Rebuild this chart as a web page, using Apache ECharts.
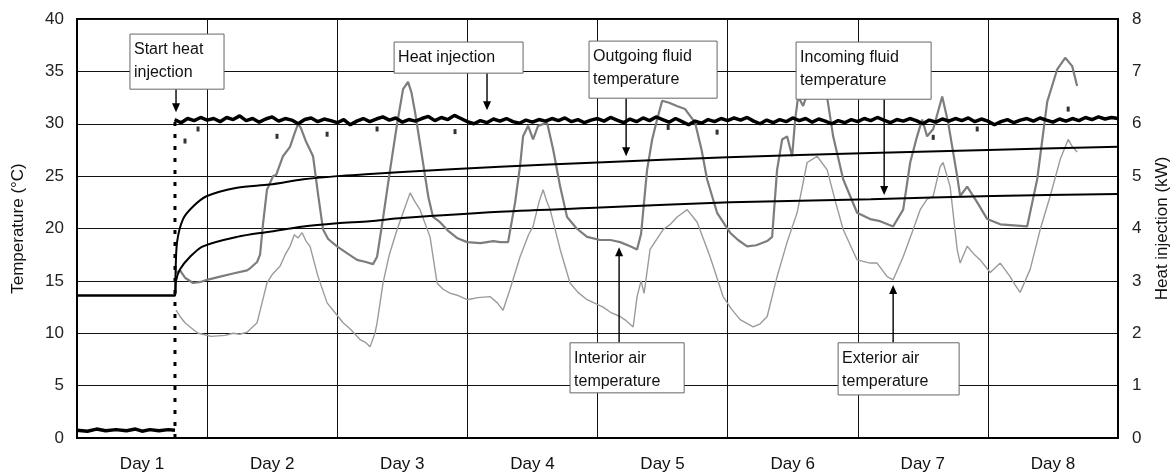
<!DOCTYPE html>
<html lang="en">
<head>
    <meta charset="UTF-8">
    <title>Heat injection test</title>
    <script src="https://cdn.jsdelivr.net/npm/echarts@6/dist/echarts.min.js"></script>
    <style>
        html, body { margin: 0; padding: 0; background: #fff; }
        #charts { width: 1173px; height: 475px; }
    </style>
</head>
<body>
    <div id="charts"></div>
    <script type="text/javascript">
        // x values are in days from the start of the record
        var dayLabels = ['Day 1', 'Day 2', 'Day 3', 'Day 4', 'Day 5', 'Day 6', 'Day 7', 'Day 8'];

        var outgoing = [
            [0, 13.6], [0.753, 13.6], [0.757, 15.5], [0.769, 18.7], [0.815, 20.9], [0.892, 22.1],
            [0.999, 23.1], [1.23, 23.9], [1.48, 24.2], [1.74, 24.7], [2.0, 25.0], [2.25, 25.2],
            [2.5, 25.4], [3.25, 25.9], [4.0, 26.3], [5.0, 26.8], [6.1, 27.2], [7.0, 27.5], [8.0, 27.8]
        ];

        var incoming = [
            [0, 13.6], [0.753, 13.6], [0.761, 15.0], [0.792, 16.1], [0.869, 17.3], [0.968, 18.3],
            [1.23, 19.2], [1.48, 19.7], [1.74, 20.2], [2.0, 20.5], [2.25, 20.7], [2.5, 21.0],
            [3.25, 21.6], [4.02, 22.0], [5.02, 22.5], [6.1, 22.8], [7.04, 23.1], [8.0, 23.3]
        ];

        var interior = [
            [0.761, 15.8], [0.792, 16.0], [0.83, 15.3], [0.892, 14.8], [0.95, 14.9], [0.999, 15.1],
            [1.1, 15.4], [1.2, 15.7], [1.307, 16.0], [1.33, 16.2], [1.384, 16.8], [1.407, 17.5],
            [1.43, 20.5], [1.46, 23.7], [1.507, 25.0], [1.53, 25.1], [1.583, 26.9], [1.637, 27.8],
            [1.67, 29.0], [1.699, 30.0], [1.72, 29.6], [1.76, 28.3], [1.814, 26.9], [1.85, 23.5],
            [1.891, 19.9], [1.93, 19.0], [1.998, 18.3], [2.08, 17.6], [2.152, 17.0], [2.22, 16.8],
            [2.275, 16.6], [2.306, 17.3], [2.352, 21.0], [2.406, 25.6], [2.46, 30.0], [2.506, 33.3],
            [2.544, 34.0], [2.57, 33.0], [2.598, 31.1], [2.65, 27.0], [2.70, 23.0], [2.736, 21.1],
            [2.79, 20.6], [2.85, 19.8], [2.92, 19.1], [2.998, 18.7], [3.1, 18.6], [3.2, 18.8],
            [3.251, 18.7], [3.313, 18.7], [3.367, 22.5], [3.405, 26.0], [3.428, 28.8], [3.467, 29.8],
            [3.505, 28.5], [3.543, 29.8], [3.613, 30.1], [3.66, 27.5], [3.713, 24.0], [3.766, 21.1],
            [3.84, 20.0], [3.92, 19.2], [4.02, 18.9], [4.1, 18.9], [4.174, 18.7], [4.251, 18.3],
            [4.304, 18.0], [4.335, 19.5], [4.381, 25.6], [4.42, 28.5], [4.458, 30.4], [4.497, 32.2],
            [4.55, 32.0], [4.61, 31.7], [4.673, 31.4], [4.75, 30.1], [4.80, 27.5], [4.842, 24.7],
            [4.919, 21.5], [5.019, 19.6], [5.08, 18.9], [5.15, 18.3], [5.22, 18.4], [5.304, 18.8],
            [5.342, 19.2], [5.38, 25.6], [5.419, 28.5], [5.457, 28.8], [5.496, 26.9], [5.519, 30.4],
            [5.542, 32.6], [5.58, 31.7], [5.611, 32.8], [5.65, 33.5], [5.70, 33.4], [5.765, 32.5],
            [5.811, 28.8], [5.888, 24.7], [5.995, 21.5], [6.095, 20.9], [6.172, 20.7], [6.272, 20.2],
            [6.349, 21.8], [6.403, 26.3], [6.456, 28.8], [6.495, 30.4], [6.533, 28.8], [6.58, 29.5],
            [6.649, 32.6], [6.695, 30.1], [6.764, 25.0], [6.787, 23.1], [6.841, 24.0], [6.918, 22.5],
            [6.995, 20.9], [7.095, 20.4], [7.2, 20.3], [7.302, 20.2], [7.379, 24.7], [7.456, 32.1],
            [7.533, 35.2], [7.594, 36.3], [7.648, 35.5], [7.686, 33.6]
        ];

        var exterior = [
            [0.761, 12.2], [0.792, 11.6], [0.83, 11.0], [0.869, 10.6], [0.93, 10.0], [0.968, 9.9],
            [1.03, 9.7], [1.138, 9.8], [1.2, 10.0], [1.25, 9.9], [1.307, 10.1], [1.384, 11.0],
            [1.42, 12.8], [1.46, 14.8], [1.5, 15.6], [1.56, 16.4], [1.6, 17.5], [1.637, 18.3],
            [1.67, 19.4], [1.699, 19.1], [1.73, 19.6], [1.76, 18.8], [1.791, 18.3], [1.85, 15.5],
            [1.922, 12.9], [1.98, 12.0], [2.045, 11.0], [2.1, 10.4], [2.175, 9.4], [2.22, 9.1],
            [2.252, 8.7], [2.29, 10.0], [2.306, 11.0], [2.352, 14.8], [2.40, 17.5], [2.46, 19.9],
            [2.52, 22.0], [2.56, 23.4], [2.60, 22.5], [2.636, 21.8], [2.713, 19.2], [2.767, 14.8],
            [2.813, 14.2], [2.87, 13.8], [2.93, 13.6], [2.998, 13.2], [3.08, 13.4], [3.174, 13.5],
            [3.23, 12.9], [3.274, 12.2], [3.328, 14.2], [3.405, 17.3], [3.47, 19.4], [3.505, 20.2],
            [3.55, 22.5], [3.582, 23.7], [3.61, 22.6], [3.636, 21.8], [3.713, 18.0], [3.789, 14.8],
            [3.85, 13.9], [3.92, 13.2], [4.043, 12.5], [4.1, 12.0], [4.174, 11.6], [4.22, 11.2],
            [4.274, 10.6], [4.304, 13.5], [4.335, 15.0], [4.358, 13.8], [4.404, 18.0], [4.504, 19.9],
            [4.56, 20.4], [4.612, 21.1], [4.689, 21.8], [4.766, 20.6], [4.865, 17.3], [4.965, 13.5],
            [5.03, 12.3], [5.096, 11.3], [5.196, 10.6], [5.25, 10.9], [5.304, 11.6], [5.38, 15.4],
            [5.457, 18.7], [5.534, 21.5], [5.611, 26.3], [5.65, 26.6], [5.688, 26.9], [5.765, 25.6],
            [5.83, 22.5], [5.888, 19.9], [5.995, 17.0], [6.095, 16.7], [6.149, 16.7], [6.226, 15.4],
            [6.272, 15.1], [6.349, 17.3], [6.426, 19.9], [6.48, 21.8], [6.533, 22.8], [6.58, 23.1],
            [6.633, 25.9], [6.656, 26.3], [6.71, 24.0], [6.764, 18.0], [6.787, 16.7], [6.841, 18.3],
            [6.89, 17.6], [6.941, 17.0], [7.018, 15.8], [7.095, 16.7], [7.171, 15.4], [7.21, 14.6],
            [7.248, 13.9], [7.325, 16.1], [7.402, 19.9], [7.479, 23.1], [7.556, 26.6], [7.617, 28.5],
            [7.65, 27.8], [7.686, 27.3]
        ];

        // heat injection (kW), before the start
        var heatBefore = [
            [0, 0.15], [0.08, 0.13], [0.15, 0.17], [0.22, 0.14], [0.3, 0.16], [0.38, 0.14],
            [0.45, 0.17], [0.5, 0.13], [0.56, 0.16], [0.63, 0.14], [0.7, 0.16], [0.753, 0.15]
        ];

        // heat injection (kW) after the start, one reading every 0.05 day from day 0.75
        var heatStart = 0.75;
        var heatStep = 0.05;
        var heatKw = [
            6.08, 6.02, 6.1, 6.06, 6.12,
            6.07, 6.1, 6.04, 6.12, 6.08, 6.15, 6.06, 6.1, 6.03, 6.09, 6.13, 6.05, 6.1, 6.07, 6.0, 6.08, 6.11, 6.04, 6.09, 6.06,
            6.02, 6.08, 5.98, 6.05, 6.1, 6.04, 6.09, 6.13, 6.07, 6.11, 6.03, 6.08, 6.05, 6.1, 6.14, 6.06, 6.12, 6.08, 6.16, 6.1,
            6.04, 6.0, 6.06, 6.02, 6.09, 6.05, 6.1, 6.04, 6.01, 6.07, 6.03, 6.08, 6.05, 6.1, 6.06, 6.11, 6.04, 6.08, 6.02, 6.07,
            6.1, 6.05, 6.12, 6.07, 6.02, 6.09, 6.04, 6.11, 6.06, 6.13, 6.08, 6.03, 6.1, 6.04, 5.98, 6.05, 6.01, 6.08, 6.04, 6.1,
            6.06, 6.11, 6.07, 6.12, 6.05, 6.0, 6.07, 6.02, 6.08, 6.04, 6.11, 6.06, 6.1, 6.03, 6.09, 6.05, 6.0, 6.06, 6.02, 6.08,
            6.04, 6.1, 6.06, 6.12, 6.07, 6.02, 6.08, 6.05, 6.1, 6.06, 6.0, 6.07, 6.03, 6.09, 6.05, 6.1, 6.06, 6.11, 6.04, 6.09,
            6.05, 5.98, 6.04, 6.08, 6.02, 6.07, 6.1, 6.05, 6.11, 6.07, 6.03, 6.09, 6.05, 6.1, 6.06, 6.12, 6.08, 6.13, 6.09, 6.12,
            6.1
        ];

        // isolated low readings of heat injection (kW)
        var heatDips = [
            [0.83, 5.67], [0.93, 5.9], [1.537, 5.76], [1.922, 5.8], [2.306, 5.9], [2.905, 5.85],
            [4.543, 5.93], [4.919, 5.84], [6.58, 5.74], [6.918, 5.9], [7.617, 6.28]
        ];

        // the switch-on moment, drawn dotted
        var startLine = [[0.753, 0], [0.753, 6.08]];

        var heatAfter = [];
        for (var i = 0; i < heatKw.length; i++) {
            heatAfter.push([+(heatStart + i * heatStep).toFixed(3), heatKw[i]]);
        }

        var font = '"Liberation Sans", Arial, sans-serif';

        var myChart = echarts.init(document.getElementById('charts'));
        var option = {
            animation: false,
            backgroundColor: '#fff',
            grid: {
                left: 77, right: 55, top: 19, bottom: 37,
                show: true, borderColor: '#000', borderWidth: 2,
                outerBoundsMode: 'none'
            },
            xAxis: [
                {
                    type: 'value', min: 0, max: 8, interval: 1,
                    axisLine: { show: true, lineStyle: { color: '#000', width: 2 } },
                    axisTick: { show: false },
                    axisLabel: { show: false },
                    splitLine: { show: true, lineStyle: { color: '#111', width: 1 } }
                },
                {
                    type: 'category', position: 'bottom', data: dayLabels, boundaryGap: true,
                    axisLine: { show: false }, axisTick: { show: false },
                    splitLine: { show: false },
                    axisLabel: { fontSize: 17, color: '#111', margin: 18, fontFamily: font }
                }
            ],
            yAxis: [
                {
                    type: 'value', min: 0, max: 40, interval: 5,
                    name: 'Temperature (°C)', nameLocation: 'middle', nameGap: 50,
                    nameTextStyle: { fontSize: 17, color: '#111', fontFamily: font },
                    axisLine: { show: true, lineStyle: { color: '#000', width: 2 } },
                    axisTick: { show: false },
                    axisLabel: { fontSize: 17, color: '#222', margin: 13, fontFamily: font },
                    splitLine: { show: true, lineStyle: { color: '#111', width: 1 } }
                },
                {
                    type: 'value', min: 0, max: 8, interval: 1, position: 'right',
                    name: 'Heat injection (kW)', nameLocation: 'middle', nameGap: 36,
                    nameTextStyle: { fontSize: 17, color: '#111', fontFamily: font },
                    axisLine: { show: true, lineStyle: { color: '#000', width: 2 } },
                    axisTick: { show: false },
                    axisLabel: { fontSize: 17, color: '#222', margin: 14, fontFamily: font },
                    splitLine: { show: false }
                }
            ],
            series: [
                {
                    name: 'Exterior air temperature', type: 'line', data: exterior,
                    symbol: 'none', lineStyle: { color: '#9b9b9b', width: 1.4 }
                },
                {
                    name: 'Interior air temperature', type: 'line', data: interior,
                    symbol: 'none', lineStyle: { color: '#7d7d7d', width: 2.2 }
                },
                {
                    name: 'Incoming fluid temperature', type: 'line', data: incoming,
                    symbol: 'none', smooth: 0.3, lineStyle: { color: '#000', width: 2 }
                },
                {
                    name: 'Outgoing fluid temperature', type: 'line', data: outgoing,
                    symbol: 'none', smooth: 0.3, lineStyle: { color: '#000', width: 2 }
                },
                {
                    name: 'Start heat injection', type: 'line', yAxisIndex: 1, data: startLine,
                    symbol: 'none', lineStyle: { color: '#000', width: 3, type: [4, 8] }
                },
                {
                    name: 'Heat before', type: 'line', yAxisIndex: 1, data: heatBefore,
                    symbol: 'none', lineStyle: { color: '#000', width: 3.5 }
                },
                {
                    name: 'Heat injection', type: 'line', yAxisIndex: 1, data: heatAfter,
                    symbol: 'none', lineStyle: { color: '#000', width: 3.5 }
                },
                {
                    name: 'Heat dips', type: 'scatter', yAxisIndex: 1, data: heatDips,
                    symbol: 'rect', symbolSize: [3, 5], itemStyle: { color: '#000' }
                }
            ]
        };
        myChart.setOption(option);

        // annotation boxes, anchored in data coordinates (day, °C)
        var notes = [
            { text: 'Start heat\ninjection', box: [[0.407, 38.56], [1.13, 33.3]], from: [0.761, 33.3], to: [0.761, 31.1] },
            { text: 'Heat injection', box: [[2.437, 37.8], [3.428, 34.83]], from: [3.151, 34.83], to: [3.151, 31.3] },
            { text: 'Outgoing fluid\ntemperature', box: [[3.935, 37.89], [4.919, 32.44]], from: [4.22, 32.44], to: [4.22, 26.9] },
            { text: 'Incoming fluid\ntemperature', box: [[5.526, 37.8], [6.564, 32.34]], from: [6.203, 32.34], to: [6.203, 23.2] },
            { text: 'Interior air\ntemperature', box: [[3.789, 9.09], [4.666, 4.31]], from: [4.166, 9.09], to: [4.166, 18.2] },
            { text: 'Exterior air\ntemperature', box: [[5.849, 9.09], [6.779, 4.11]], from: [6.272, 9.09], to: [6.272, 14.6] }
        ];

        function px(p) {
            return myChart.convertToPixel({ xAxisIndex: 0, yAxisIndex: 0 }, p);
        }

        var elements = [];
        notes.forEach(function (n) {
            var a = px(n.box[0]);
            var b = px(n.box[1]);
            var f = px(n.from);
            var t = px(n.to);
            var dir = t[1] > f[1] ? -1 : 1;
            elements.push({
                type: 'line', z: 100,
                shape: { x1: f[0], y1: f[1], x2: t[0], y2: t[1] + dir * 6 },
                style: { stroke: '#000', lineWidth: 1.4 }
            });
            elements.push({
                type: 'polygon', z: 100,
                shape: { points: [[t[0] - 4, t[1] + dir * 9], [t[0] + 4, t[1] + dir * 9], [t[0], t[1]]] },
                style: { fill: '#000' }
            });
            elements.push({
                type: 'rect', z: 101,
                shape: { x: a[0], y: a[1], width: b[0] - a[0], height: b[1] - a[1] },
                style: { fill: '#fff', stroke: '#666', lineWidth: 1 }
            });
            elements.push({
                type: 'text', z: 102,
                x: a[0] + 4, y: a[1] + 4,
                style: { text: n.text, font: '16px ' + font, fill: '#111', lineHeight: 23 }
            });
        });
        myChart.setOption({ graphic: elements });
    </script>
</body>
</html>
